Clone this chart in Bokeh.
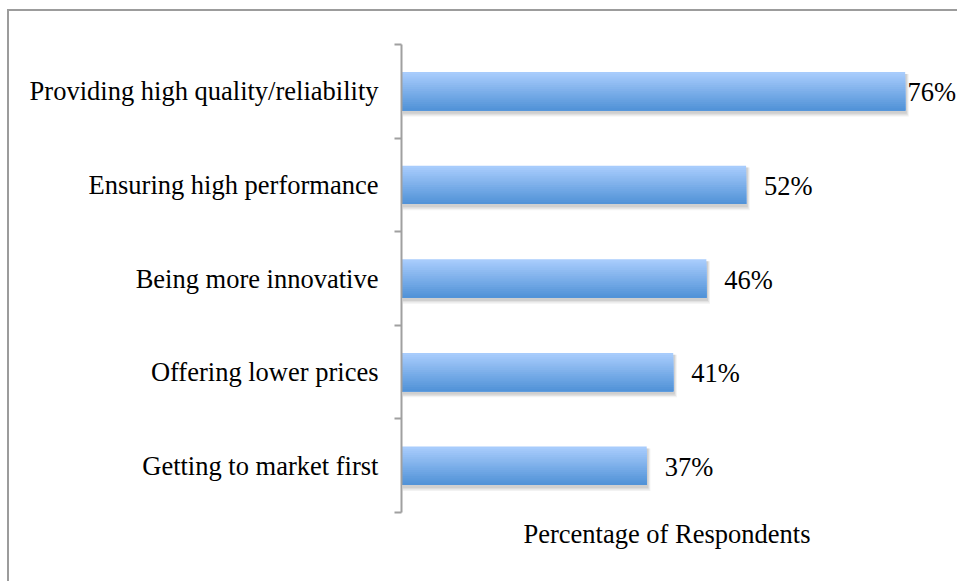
from bokeh.plotting import figure
from bokeh.models import Range1d, FixedTicker, ColumnDataSource, LabelSet, Title
from bokeh.embed import file_html
from bokeh.resources import INLINE

# ---- data (top to bottom as shown) ----
categories = [
    "Providing high quality/reliability",
    "Ensuring high performance",
    "Being more innovative",
    "Offering lower prices",
    "Getting to market first",
]
values = [76, 52, 46, 41, 37]
axis_title = "Percentage of Respondents"

FONT = "Liberation Serif"
FSIZE = "26.5px"
GRAY = "#a0a0a0"

n = len(categories)
ypos = [n - 1 - i for i in range(n)]
X_END = 84.2

W, H = 950, 572
ML, MR, MT, MB = 392, 0, 33, 71

p = figure(width=W, height=H, output_backend="svg", toolbar_location=None,
           x_range=Range1d(0, X_END), y_range=Range1d(-0.5, n - 0.5),
           x_axis_location=None,
           min_border_left=ML, min_border_right=MR,
           min_border_top=MT, min_border_bottom=MB,
           background_fill_color="white", border_fill_color="white",
           styles={"margin-left": "7px", "margin-top": "9px",
                   "border-top": "2px solid #9c9c9c",
                   "border-left": "2px solid #9c9c9c"})
p.outline_line_color = None
p.grid.visible = False

# ---- bars: shadow + vertical gradient built from overlapping slices ----
bh = 0.41
top_c = (168, 204, 252)
bot_c = (82, 147, 216)

for dx, dy, a in [(0.55, -0.065, 0.10), (0.4, -0.05, 0.14), (0.25, -0.035, 0.18)]:
    p.quad(left=[0.2] * n, right=[v + dx for v in values],
           top=[y + bh / 2 - 0.02 for y in ypos],
           bottom=[y - bh / 2 + dy for y in ypos],
           fill_color="#808080", fill_alpha=a, line_color=None)

steps = 18
for k in range(steps):
    t = k / (steps - 1)
    col = "#%02x%02x%02x" % tuple(int(round(top_c[j] + (bot_c[j] - top_c[j]) * t)) for j in range(3))
    p.quad(left=[0] * n, right=values,
           top=[y + bh / 2 - k * bh / steps for y in ypos],
           bottom=[y - bh / 2 for y in ypos],
           fill_color=col, line_color=None)

# ---- value labels (pushed inward when near the right edge) ----
frame_w = W - ML - MR
ppu = frame_w / X_END
offsets = [min(18, frame_w - v * ppu - 52) for v in values]
src = ColumnDataSource(dict(x=values, y=ypos, t=[f"{v}%" for v in values], off=offsets))
p.add_layout(LabelSet(x="x", y="y", text="t", source=src, x_offset="off", y_offset=-1,
                      text_font=FONT, text_font_size=FSIZE, text_color="black",
                      text_baseline="middle", text_align="left"))

# ---- y axis: labels at centres, ticks at category boundaries ----
ya = p.yaxis[0]
ya.ticker = FixedTicker(ticks=ypos, minor_ticks=[i - 0.5 for i in range(n + 1)])
ya.major_label_overrides = {y: c for y, c in zip(ypos, categories)}
ya.major_tick_line_color = None
ya.major_tick_out = 0
ya.major_tick_in = 0
ya.minor_tick_out = 7
ya.minor_tick_in = 0
ya.minor_tick_line_color = GRAY
ya.minor_tick_line_width = 2
ya.axis_line_color = GRAY
ya.axis_line_width = 2
ya.major_label_standoff = 16
ya.major_label_text_font = FONT
ya.major_label_text_font_size = FSIZE
ya.major_label_text_color = "black"

# ---- horizontal axis title ----
p.add_layout(Title(text=axis_title, align="left", offset=122, standoff=8,
                   text_font=FONT, text_font_size=FSIZE, text_font_style="normal",
                   text_color="black"), "below")

open("out.html", "w").write(file_html(p, INLINE))
